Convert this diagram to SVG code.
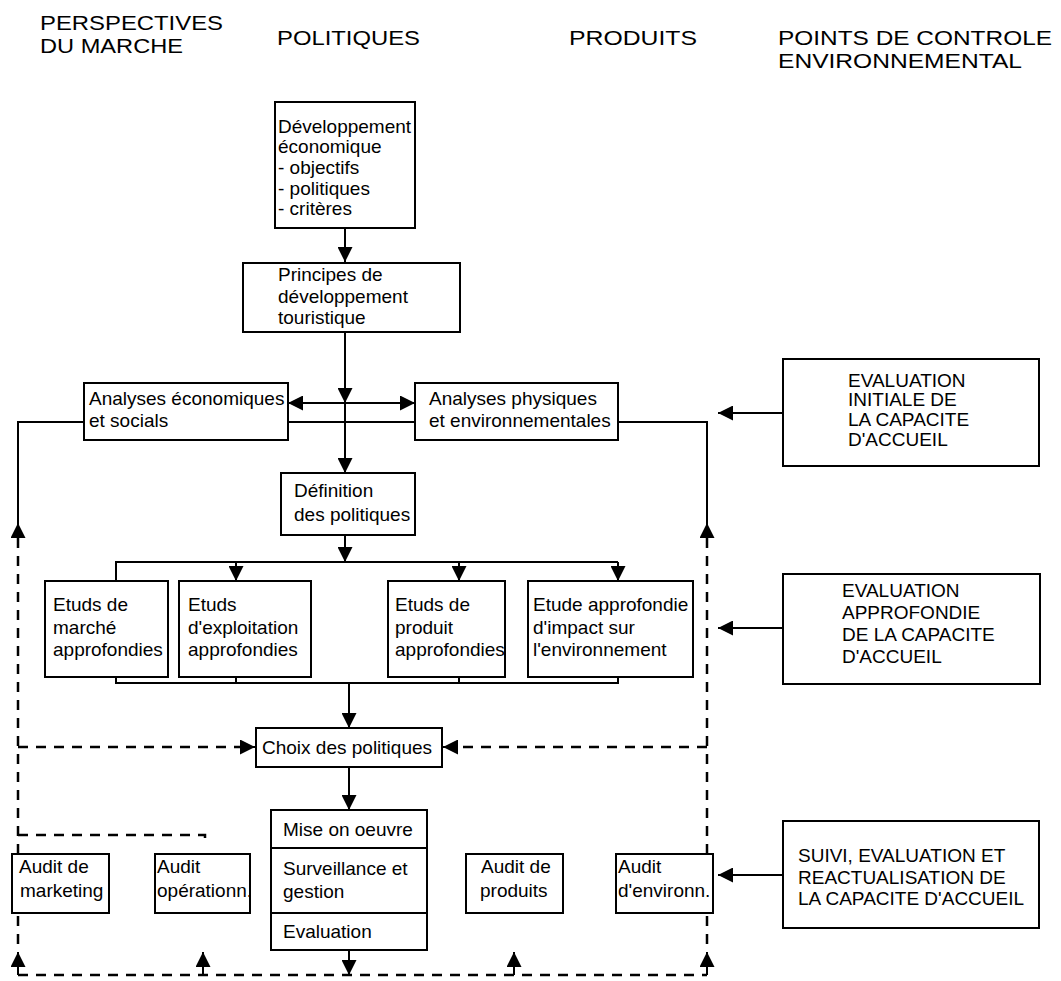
<svg xmlns="http://www.w3.org/2000/svg" width="1061" height="981" viewBox="0 0 1061 981">
<style>
text{font-family:"Liberation Sans",Arial,sans-serif;font-size:19px;fill:#000}
.h{font-size:21px}
.box{fill:#fff;stroke:#000;stroke-width:2}
.ln{fill:none;stroke:#000;stroke-width:2}
.ds{fill:none;stroke:#000;stroke-width:2.5;stroke-dasharray:10 8}
</style>
<defs>
<marker id="ah" viewBox="0 0 15 15" refX="15" refY="7.5" markerWidth="15" markerHeight="15" markerUnits="userSpaceOnUse" orient="auto-start-reverse"><path d="M0,0 L15,7.5 L0,15 z" fill="#000"/></marker>
</defs>
<rect width="1061" height="981" fill="#fff"/>
<g id="headers">
<text class="h" x="40" y="30" textLength="183" lengthAdjust="spacingAndGlyphs">PERSPECTIVES</text>
<text class="h" x="40" y="53" textLength="143" lengthAdjust="spacingAndGlyphs">DU MARCHE</text>
<text class="h" x="277" y="45" textLength="143" lengthAdjust="spacingAndGlyphs">POLITIQUES</text>
<text class="h" x="569" y="45" textLength="128" lengthAdjust="spacingAndGlyphs">PRODUITS</text>
<text class="h" x="778" y="45" textLength="274" lengthAdjust="spacingAndGlyphs">POINTS DE CONTROLE</text>
<text class="h" x="778" y="68" textLength="244" lengthAdjust="spacingAndGlyphs">ENVIRONNEMENTAL</text>
</g>
<g id="connectors">
<path class="ln" d="M345,228 V262" marker-end="url(#ah)"/>
<path class="ln" d="M345,332 V403" marker-end="url(#ah)"/>
<path class="ln" d="M345,403 V473" marker-end="url(#ah)"/>
<path class="ln" d="M288,403 H415" marker-start="url(#ah)" marker-end="url(#ah)"/>
<path class="ln" d="M18,523 V422 H707 V523"/>
<path class="ln" d="M345,535 V562" marker-end="url(#ah)"/>
<path class="ln" d="M116,581 V562 H618"/>
<path class="ln" d="M236,562 V581" marker-end="url(#ah)"/>
<path class="ln" d="M459,562 V581" marker-end="url(#ah)"/>
<path class="ln" d="M618,562 V581" marker-end="url(#ah)"/>
<path class="ln" d="M116,677 V683 H618 V677 M236,683 V677 M459,683 V677"/>
<path class="ln" d="M349,683 V728" marker-end="url(#ah)"/>
<path class="ln" d="M349,767 V810" marker-end="url(#ah)"/>
<path class="ln" d="M349,950 V975" marker-end="url(#ah)"/>
<path class="ds" d="M18,538 V952"/>
<path class="ds" d="M707,538 V952"/>
<path class="ln" d="M18,540 V523" marker-end="url(#ah)"/>
<path class="ln" d="M707,540 V523" marker-end="url(#ah)"/>
<path class="ds" d="M18,975 H707"/>
<path class="ln" d="M18,975 V952" marker-end="url(#ah)"/>
<path class="ln" d="M203,975 V952" marker-end="url(#ah)"/>
<path class="ln" d="M514,975 V952" marker-end="url(#ah)"/>
<path class="ln" d="M707,975 V952" marker-end="url(#ah)"/>
<path class="ds" d="M18,747 H242"/>
<path class="ln" d="M240,747 H255" marker-end="url(#ah)"/>
<path class="ds" d="M707,747 H456"/>
<path class="ln" d="M458,747 H443" marker-end="url(#ah)"/>
<path class="ds" d="M18,835 H205 V842"/>
<path class="ln" d="M783,413 H718" marker-end="url(#ah)"/>
<path class="ln" d="M783,628 H718" marker-end="url(#ah)"/>
<path class="ln" d="M783,875 H718" marker-end="url(#ah)"/>
</g>
<g id="n-dev">
<rect class="box" x="275" y="102" width="140" height="126"/>
<text x="278" y="133">Développement</text>
<text x="278" y="153">économique</text>
<text x="278" y="174">- objectifs</text>
<text x="278" y="195">- politiques</text>
<text x="278" y="215">- critères</text>
</g>
<g id="n-principes">
<rect class="box" x="243" y="263" width="217" height="69"/>
<text x="278" y="281">Principes de</text>
<text x="278" y="303">développement</text>
<text x="278" y="324">touristique</text>
</g>
<g id="n-eco">
<rect class="box" x="84" y="383" width="204" height="57"/>
<text x="89" y="405">Analyses économiques</text>
<text x="89" y="427">et socials</text>
</g>
<g id="n-phys">
<rect class="box" x="415" y="383" width="203" height="57"/>
<text x="429" y="405">Analyses physiques</text>
<text x="429" y="427">et environnementales</text>
</g>
<g id="n-def">
<rect class="box" x="281" y="473" width="134" height="62"/>
<text x="294" y="497">Définition</text>
<text x="294" y="521">des politiques</text>
</g>
<g id="n-marche">
<rect class="box" x="45" y="581" width="123" height="96"/>
<text x="53" y="611">Etuds de</text>
<text x="53" y="634">marché</text>
<text x="53" y="656">approfondies</text>
</g>
<g id="n-exploit">
<rect class="box" x="179" y="581" width="132" height="96"/>
<text x="188" y="611">Etuds</text>
<text x="188" y="634">d'exploitation</text>
<text x="188" y="656">approfondies</text>
</g>
<g id="n-produit">
<rect class="box" x="388" y="581" width="117" height="96"/>
<text x="395" y="611">Etuds de</text>
<text x="395" y="634">produit</text>
<text x="395" y="656">approfondies</text>
</g>
<g id="n-impact">
<rect class="box" x="528" y="581" width="165" height="96"/>
<text x="533" y="611">Etude approfondie</text>
<text x="533" y="634">d'impact sur</text>
<text x="533" y="656">l'environnement</text>
</g>
<g id="n-choix">
<rect class="box" x="256" y="728" width="186" height="39"/>
<text x="262" y="754">Choix des politiques</text>
</g>
<g id="n-mise">
<rect class="box" x="271" y="810" width="156" height="140"/>
<path class="ln" d="M271,848 H427 M271,913 H427"/>
<text x="283" y="836">Mise on oeuvre</text>
<text x="283" y="875">Surveillance et</text>
<text x="283" y="898">gestion</text>
<text x="283" y="938">Evaluation</text>
</g>
<g id="n-audit-mkt">
<rect class="box" x="12" y="854" width="97" height="59"/>
<text x="19" y="873">Audit de</text>
<text x="20" y="897">marketing</text>
</g>
<g id="n-audit-op">
<rect class="box" x="155" y="854" width="95" height="59"/>
<text x="157" y="873">Audit</text>
<text x="157" y="897">opérationn.</text>
</g>
<g id="n-audit-prod">
<rect class="box" x="466" y="854" width="97" height="59"/>
<text x="481" y="873">Audit de</text>
<text x="480" y="897">produits</text>
</g>
<g id="n-audit-env">
<rect class="box" x="616" y="854" width="97" height="59"/>
<text x="618" y="873">Audit</text>
<text x="618" y="897">d'environn.</text>
</g>
<g id="n-eval-init">
<rect class="box" x="783" y="359" width="256" height="107"/>
<text x="848" y="387">EVALUATION</text>
<text x="848" y="406">INITIALE DE</text>
<text x="848" y="426">LA CAPACITE</text>
<text x="848" y="446">D'ACCUEIL</text>
</g>
<g id="n-eval-appr">
<rect class="box" x="783" y="574" width="257" height="110"/>
<text x="842" y="597">EVALUATION</text>
<text x="842" y="619">APPROFONDIE</text>
<text x="842" y="641">DE LA CAPACITE</text>
<text x="842" y="663">D'ACCUEIL</text>
</g>
<g id="n-suivi">
<rect class="box" x="783" y="821" width="256" height="107"/>
<text x="798" y="862">SUIVI, EVALUATION ET</text>
<text x="798" y="884">REACTUALISATION DE</text>
<text x="798" y="905">LA CAPACITE D'ACCUEIL</text>
</g>
</svg>
